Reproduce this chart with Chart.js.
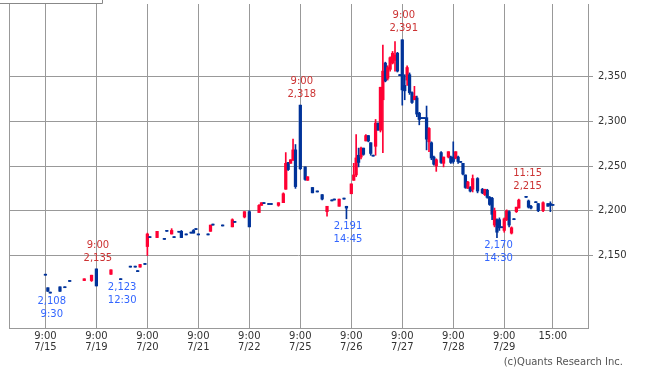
<!DOCTYPE html>
<html>
<head>
<meta charset="utf-8">
<title>Intraday candles 7/15 - 7/29</title>
<script src="https://cdn.jsdelivr.net/npm/chart.js@4/dist/chart.umd.min.js"></script>
<style>
  html, body { margin: 0; padding: 0; background: #fff; }
  #wrap { position: relative; width: 650px; height: 376px; }
</style>
</head>
<body>
<div id="wrap"><canvas id="chart"></canvas></div>
<script>
// ── Data (15-minute candles, one inner array per trading day) ─────────────
const days = ['7/15', '7/19', '7/20', '7/21', '7/22', '7/25', '7/26', '7/27', '7/28', '7/29'];

const ALL_DAY = ['9:00','9:15','9:30','9:45','10:00','10:15','10:30','10:45','11:00','11:15',
                 '12:30','12:45','13:00','13:15','13:30','13:45','14:00','14:15','14:30','14:45','15:00'];

const candleTimes = [
  ['9:00','9:15','9:30','10:30','11:00','12:30','14:00','14:45'],
  ['9:00','10:30','12:30','13:30','14:00','14:15','14:30','15:00'],
  ['9:00','9:15','10:00','10:45','11:00','12:30','12:45','13:15','13:30','14:00','14:30','14:45','15:00'],
  ['9:00','10:00','10:15','10:30','12:30','13:30','13:45','14:45'],
  ['9:00','10:00','10:15','10:30','11:00','11:15','13:00','13:30','13:45','14:00','14:15','14:30','14:45'],
  ['9:00','9:30','9:45','10:15','10:45','11:15','12:45','13:15','13:30','14:00','14:30','14:45'],
  ALL_DAY,
  ['9:00','9:15','9:30','9:45','10:00','10:15','10:30','10:45','11:00','11:15',
   '12:30','12:45','13:00','13:15','13:30','14:00','14:15','14:45','15:00'],
  ['9:00','9:15','9:30','9:45','10:00','10:15','10:30','10:45','11:00',
   '12:30','13:00','13:15','13:30','13:45','14:00','14:15','14:30','14:45','15:00'],
  ['9:00','9:15','9:30','9:45','10:00','10:15','10:30','11:15','12:30','12:45','13:15','13:30','14:00','14:30','14:45','15:00']
];

const opens = [
  [2128,2114,2108,2115,2114,2121,2122,2122],
  [2135,2129,2123,2137,2137,2132,2137,2140],
  [2160,2170,2170,2168,2177,2174,2170,2176,2177,2173,2175,2178,2179],
  [2173,2173,2177,2184,2183,2182,2187,2193],
  [2199,2198,2206,2208,2207,2207,2206,2209,2224,2254,2253,2257,2268],
  [2318,2249,2234,2226,2221,2218,2199,2211,2212,2205,2213,2205],
  [2219,2234,2240,2262,2260,2270,2278,2284,2276,2261,2272,2298,2290,2324,2365,2348,2358,2365,2368,2376,2351],
  [2391,2340,2346,2352,2332,2324,2326,2309,2303,2303,2304,2277,2276,2260,2250,2265,2253,2260,2260],
  [2260,2259,2260,2254,2253,2240,2225,2226,2224,2236,2224,2218,2223,2215,2214,2184,2190,2190,2181],
  [2178,2190,2199,2175,2190,2199,2203,2215,2211,2205,2209,2208,2200,2208,2208,2206]
];
const highs = [
  [2128,2114,2108,2115,2114,2121,2124,2128],
  [2135,2134,2123,2137,2137,2132,2140,2140],
  [2175,2170,2177,2168,2177,2180,2170,2176,2178,2173,2175,2179,2179],
  [2173,2173,2184,2184,2183,2191,2187,2199],
  [2200,2207,2209,2208,2207,2207,2209,2220,2265,2254,2257,2280,2274],
  [2318,2249,2238,2226,2221,2218,2205,2211,2212,2213,2213,2205],
  [2230,2253,2285,2270,2271,2270,2285,2284,2276,2261,2302,2298,2338,2385,2366,2362,2372,2378,2389,2377,2351],
  [2391,2352,2362,2354,2333,2339,2328,2310,2303,2303,2317,2293,2277,2261,2258,2266,2260,2266,2261],
  [2277,2266,2261,2254,2253,2240,2233,2227,2240,2237,2225,2224,2224,2216,2215,2203,2191,2192,2181],
  [2192,2201,2200,2182,2190,2204,2213,2215,2212,2206,2209,2208,2210,2208,2210,2206]
];
const lows = [
  [2128,2110,2108,2110,2114,2121,2122,2121],
  [2116,2129,2123,2137,2137,2132,2137,2140],
  [2150,2170,2170,2168,2177,2174,2170,2176,2170,2173,2175,2175,2179],
  [2173,2173,2177,2184,2183,2182,2187,2192],
  [2182,2198,2206,2208,2207,2207,2205,2209,2224,2245,2253,2256,2225],
  [2246,2234,2234,2220,2221,2212,2194,2211,2212,2205,2213,2191],
  [2219,2234,2238,2249,2258,2262,2278,2277,2262,2261,2262,2290,2288,2265,2344,2346,2356,2364,2356,2355,2351],
  [2318,2324,2340,2330,2320,2324,2305,2296,2303,2303,2268,2266,2257,2251,2244,2253,2249,2259,2253],
  [2253,2258,2253,2254,2240,2225,2225,2221,2221,2220,2219,2217,2214,2206,2190,2182,2170,2178,2181],
  [2176,2189,2182,2174,2190,2198,2203,2215,2203,2202,2209,2199,2199,2205,2199,2206]
];
const closes = [
  [2128,2110,2108,2110,2114,2121,2124,2128],
  [2116,2134,2123,2137,2137,2132,2140,2140],
  [2174,2170,2177,2168,2177,2178,2170,2176,2170,2173,2175,2175,2179],
  [2173,2173,2184,2184,2183,2190,2187,2199],
  [2182,2206,2209,2208,2207,2207,2209,2219,2253,2246,2257,2268,2227],
  [2247,2235,2238,2220,2221,2213,2205,2211,2212,2213,2213,2203],
  [2230,2240,2259,2254,2270,2263,2284,2278,2264,2261,2298,2290,2338,2356,2345,2360,2371,2376,2374,2356,2351],
  [2335,2334,2360,2332,2321,2328,2308,2302,2303,2303,2280,2292,2259,2252,2257,2254,2260,2266,2254],
  [2255,2266,2255,2254,2241,2226,2232,2222,2236,2222,2220,2224,2215,2207,2196,2200,2176,2181,2181],
  [2191,2200,2184,2181,2190,2204,2212,2215,2204,2203,2209,2200,2209,2205,2206,2206]
];

// High / low call-outs
const noteDay   = [0, 1, 1, 5, 5, 7, 8, 9];
const noteTime  = ['9:30', '9:00', '12:30', '9:00', '14:45', '9:00', '14:30', '11:15'];
const notePrice = [2108, 2135, 2123, 2318, 2191, 2391, 2170, 2215];
const noteKind  = ['low', 'high', 'low', 'high', 'low', 'high', 'low', 'high'];

const yTicks = [2150, 2200, 2250, 2300, 2350];

// ── Style ─────────────────────────────────────────────────────────────────
const UP    = '#ff0033';
const DOWN  = '#003399';
const GRID  = '#999999';
const FONT  = '"DejaVu Sans", Verdana, sans-serif';
const DAY_SLOTS = 21;   // 20 quarter-hours + the 15:00 close

Chart.defaults.font.family = FONT;
Chart.defaults.font.size = 10;
Chart.defaults.color = '#333';

// ── Helpers ───────────────────────────────────────────────────────────────
function slotOf(t) {
    const [h, m] = t.split(':').map(Number);
    const min = (h - 9) * 60 + m;
    return min <= 150 ? min / 15 : 10 + (min - 210) / 15;   // lunch break removed
}
const fmt = v => v.toLocaleString('en-US');

const candles = [];
candleTimes.forEach((times, d) => times.forEach((t, i) => candles.push({
    x: d * DAY_SLOTS + slotOf(t),
    o: opens[d][i], h: highs[d][i], l: lows[d][i], c: closes[d][i]
})));
const colorOf = k => candles[k].c > candles[k].o ? UP : DOWN;

const xTickValues = days.map((d, i) => i * DAY_SLOTS).concat([(days.length - 1) * DAY_SLOTS + slotOf('15:00')]);

// ── Plugin: frame, call-outs, credit ──────────────────────────────────────
const notesPlugin = {
    id: 'notes',
    afterDraw(chart) {
        const { ctx, chartArea, scales: { x, y } } = chart;
        ctx.save();
        ctx.strokeStyle = GRID;
        ctx.lineWidth = 1;
        ctx.beginPath();
        ctx.moveTo(chartArea.left + 0.5, chartArea.top);
        ctx.lineTo(chartArea.left + 0.5, chartArea.bottom);
        ctx.stroke();

        ctx.strokeStyle = '#888';
        ctx.beginPath();
        ctx.moveTo(0, 3.5); ctx.lineTo(102.5, 3.5); ctx.lineTo(102.5, 0);
        ctx.stroke();

        ctx.font = '10px ' + FONT;
        ctx.textAlign = 'center';
        ctx.textBaseline = 'middle';
        noteDay.forEach((d, i) => {
            const px = x.getPixelForValue(d * DAY_SLOTS + slotOf(noteTime[i])) + 1.5;
            const py = y.getPixelForValue(notePrice[i]);
            if (noteKind[i] === 'high') {
                ctx.fillStyle = '#cc3333';
                ctx.fillText(noteTime[i], px, py - 24);
                ctx.fillText(fmt(notePrice[i]), px, py - 11);
            } else {
                ctx.fillStyle = '#3366ff';
                ctx.fillText(fmt(notePrice[i]), px, py + 8);
                ctx.fillText(noteTime[i], px, py + 21);
            }
        });

        ctx.fillStyle = '#555';
        ctx.textAlign = 'right';
        ctx.fillText('(c)Quants Research Inc.', 623, 362);
        ctx.restore();
    }
};

// ── Chart ─────────────────────────────────────────────────────────────────
const ctx = document.getElementById('chart').getContext('2d');
const chart = new Chart(ctx, {
    type: 'bar',
    data: {
        datasets: [
            {
                label: 'range',
                data: candles.map(c => ({ x: c.x, y: [c.l, c.h] })),
                backgroundColor: c => colorOf(c.dataIndex),
                barThickness: 1,
                minBarLength: 1,
                grouped: false,
                borderWidth: 0
            },
            {
                label: 'body',
                data: candles.map(c => ({ x: c.x, y: [Math.min(c.o, c.c), Math.max(c.o, c.c)] })),
                backgroundColor: c => colorOf(c.dataIndex),
                barThickness: 2.6,
                minBarLength: 1,
                grouped: false,
                borderWidth: 0
            }
        ]
    },
    options: {
        responsive: true,
        maintainAspectRatio: false,
        animation: false,
        devicePixelRatio: 1,
        layout: { padding: { left: 9, top: 4, right: 0, bottom: 0 } },
        plugins: { legend: { display: false }, tooltip: { enabled: false } },
        scales: {
            x: {
                type: 'linear',
                min: -15,
                max: 223.5,
                offset: false,
                grid: { color: GRID, drawTicks: false, offset: false },
                border: { color: GRID },
                afterBuildTicks: s => { s.ticks = xTickValues.map(v => ({ value: v })); },
                afterFit: s => { s.height = 48; s.paddingLeft = 0; s.paddingRight = 0; },
                ticks: {
                    autoSkip: false,
                    maxRotation: 0,
                    padding: 3,
                    font: { size: 10, lineHeight: 1.1 },
                    callback: (v, i) => i < days.length ? ['9:00', days[i]] : ['15:00', '']
                }
            },
            y: {
                position: 'right',
                min: 2069,
                max: 2431,
                beginAtZero: false,
                grid: { color: GRID, tickLength: 5 },
                border: { color: GRID },
                afterBuildTicks: s => { s.ticks = yTicks.map(v => ({ value: v })); },
                afterFit: s => { s.width = 62; s.paddingTop = 0; s.paddingBottom = 0; },
                ticks: { padding: 5, callback: v => fmt(v) }
            }
        }
    },
    plugins: [notesPlugin]
});
</script>
</body>
</html>
